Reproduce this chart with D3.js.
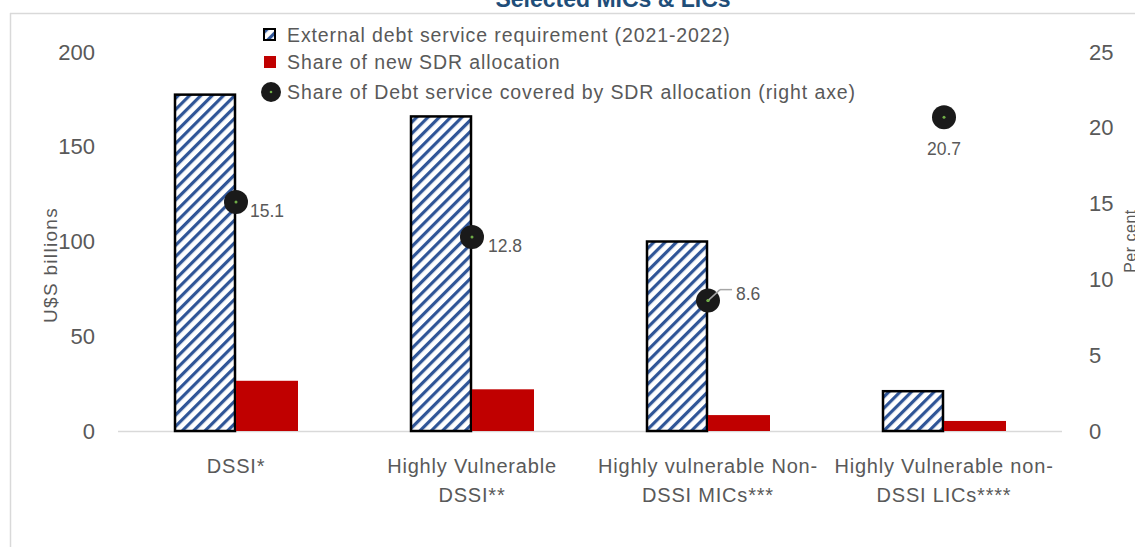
<!DOCTYPE html>
<html><head><meta charset="utf-8">
<script src="https://cdn.jsdelivr.net/npm/d3@7"></script>
<style>html,body{margin:0;padding:0;background:#fff;}svg{display:block;}</style>
</head><body>
<svg id="c" width="1135" height="547"></svg>
<script>
const categories = [["DSSI*"], ["Highly Vulnerable", "DSSI**"], ["Highly vulnerable Non-", "DSSI MICs***"], ["Highly Vulnerable non-", "DSSI LICs****"]];
const debtService = [177.5, 166, 100, 21];
const sdrShare = [26.5, 22, 8.4, 5.3];
const coveredPct = [15.1, 12.8, 8.6, 20.7];
const leftTicks = [0, 50, 100, 150, 200];
const rightTicks = [0, 5, 10, 15, 20, 25];
const legendLabels = ["External debt service requirement (2021-2022)", "Share of new SDR allocation", "Share of Debt service covered by SDR allocation (right axe)"];

const FONT = "'Liberation Sans', Arial, sans-serif";
const GRAY = "#595959";
const svg = d3.select("#c");
const defs = svg.append("defs");
const pat = defs.append("pattern").attr("id", "hatch").attr("patternUnits", "userSpaceOnUse")
  .attr("width", 8).attr("height", 8).attr("patternTransform", "rotate(45)");
pat.append("rect").attr("width", 8).attr("height", 8).attr("fill", "#fff");
pat.append("rect").attr("x", 0).attr("width", 3.2).attr("height", 8).attr("fill", "#2F5597");

// frame
svg.append("line").attr("x1", 10).attr("x2", 1135).attr("y1", 13.5).attr("y2", 13.5).attr("stroke", "#d9d9d9").attr("stroke-width", 1.5);
svg.append("line").attr("x1", 10.5).attr("x2", 10.5).attr("y1", 13).attr("y2", 547).attr("stroke", "#d9d9d9").attr("stroke-width", 1.5);

// title (cut off at top edge, as in the reference)
svg.append("text").attr("x", 613).attr("y", 6.5).attr("text-anchor", "middle")
  .attr("font-family", FONT).attr("font-weight", "bold").attr("font-size", 23).attr("fill", "#1F4E79")
  .text("Selected MICs & LICs");

const plotL = 118, plotR = 1062, plotT = 52, plotB = 431;
const keys = categories.map((d, i) => i);
const x0 = d3.scaleBand().domain(keys).range([plotL, plotR]).paddingInner(0.4746).paddingOuter(0.2373);
const x1 = d3.scaleBand().domain(["debt", "sdr"]).range([0, x0.bandwidth()]);
const yL = d3.scaleLinear().domain([0, 200]).range([plotB, plotT]);
const yR = d3.scaleLinear().domain([0, 25]).range([plotB, plotT]);

// left axis labels
const axL = svg.append("g").attr("transform", `translate(${plotL},0)`)
  .call(d3.axisLeft(yL).tickValues(leftTicks).tickSize(0).tickPadding(23));
axL.select(".domain").remove();
axL.selectAll("text").attr("font-family", FONT).attr("font-size", 22).attr("fill", GRAY);

const axR = svg.append("g").attr("transform", `translate(${plotR},0)`)
  .call(d3.axisRight(yR).tickValues(rightTicks).tickSize(0).tickPadding(27));
axR.select(".domain").remove();
axR.selectAll("text").attr("font-family", FONT).attr("font-size", 22).attr("fill", GRAY);

// axis titles
svg.append("text").attr("transform", `translate(57,265) rotate(-90)`).attr("text-anchor", "middle")
  .attr("font-family", FONT).attr("font-size", 19).attr("letter-spacing", 1.3).attr("fill", GRAY).text("U$S billions");
svg.append("text").attr("transform", `translate(1136,241) rotate(-90)`).attr("text-anchor", "middle")
  .attr("font-family", FONT).attr("font-size", 16).attr("letter-spacing", 0.5).attr("fill", GRAY).text("Per cent");

// baseline
svg.append("line").attr("x1", plotL).attr("x2", plotR).attr("y1", yL(0) + 0.5).attr("y2", yL(0) + 0.5)
  .attr("stroke", "#d9d9d9").attr("stroke-width", 1.5);

// bars
const g = svg.append("g");
g.selectAll(".debt").data(keys).join("rect")
  .attr("x", i => x0(i) + x1("debt") + 1)
  .attr("y", i => yL(debtService[i]))
  .attr("width", x1.bandwidth() - 2)
  .attr("height", i => yL(0) - yL(debtService[i]))
  .attr("fill", "url(#hatch)").attr("stroke", "#000").attr("stroke-width", 2.5);
g.selectAll(".sdr").data(keys).join("rect")
  .attr("x", i => x0(i) + x1("sdr"))
  .attr("y", i => yL(sdrShare[i]))
  .attr("width", x1.bandwidth())
  .attr("height", i => yL(0) - yL(sdrShare[i]))
  .attr("fill", "#C00000");

// category labels
categories.forEach((lines, i) => {
  const t = svg.append("text").attr("text-anchor", "middle").attr("font-family", FONT)
    .attr("font-size", 20).attr("letter-spacing", 0.8).attr("fill", GRAY);
  lines.forEach((l, j) => t.append("tspan").attr("x", x0(i) + x0.bandwidth() / 2).attr("y", 473 + j * 29).text(l));
});

// dots
const cx = i => x0(i) + x0.bandwidth() / 2;
const labelOffsets = [[14, 15], [16, 15], [28, -1], [0, 38]];
const anchors = ["start", "start", "start", "middle"];
svg.append("polyline").attr("points", `${cx(2) + 12},${yR(coveredPct[2]) - 11} ${cx(2) + 24},${yR(coveredPct[2]) - 11}`)
  .attr("fill", "none").attr("stroke", "#a6a6a6").attr("stroke-width", 1.5);
keys.forEach(i => {
  svg.append("circle").attr("cx", cx(i)).attr("cy", yR(coveredPct[i])).attr("r", 12).attr("fill", "#1a1a1a");
  svg.append("circle").attr("cx", cx(i)).attr("cy", yR(coveredPct[i])).attr("r", 1.5).attr("fill", "#70AD47");
  svg.append("text").attr("x", cx(i) + labelOffsets[i][0]).attr("y", yR(coveredPct[i]) + labelOffsets[i][1])
    .attr("text-anchor", anchors[i]).attr("font-family", FONT).attr("font-size", 17.5).attr("fill", GRAY)
    .text(coveredPct[i].toFixed(1));
});
svg.append("line").attr("x1", cx(2)).attr("y1", yR(coveredPct[2])).attr("x2", cx(2) + 12).attr("y2", yR(coveredPct[2]) - 11)
  .attr("stroke", "#a6a6a6").attr("stroke-width", 1.5);
svg.append("circle").attr("cx", cx(2)).attr("cy", yR(coveredPct[2])).attr("r", 1.5).attr("fill", "#70AD47");

// legend
const lg = svg.append("g");
lg.append("rect").attr("x", 264).attr("y", 29).attr("width", 11).attr("height", 11)
  .attr("fill", "url(#hatch)").attr("stroke", "#000").attr("stroke-width", 2);
lg.append("rect").attr("x", 264).attr("y", 56).attr("width", 12).attr("height", 12).attr("fill", "#C00000");
lg.append("circle").attr("cx", 271).attr("cy", 92).attr("r", 10).attr("fill", "#1a1a1a");
lg.append("circle").attr("cx", 271).attr("cy", 92).attr("r", 1.3).attr("fill", "#70AD47");
[42, 69, 99].forEach((y, j) => {
  lg.append("text").attr("x", 287).attr("y", y).attr("font-family", FONT).attr("font-size", 19.5)
    .attr("letter-spacing", 0.9).attr("fill", GRAY).text(legendLabels[j]);
});
</script>
</body></html>
